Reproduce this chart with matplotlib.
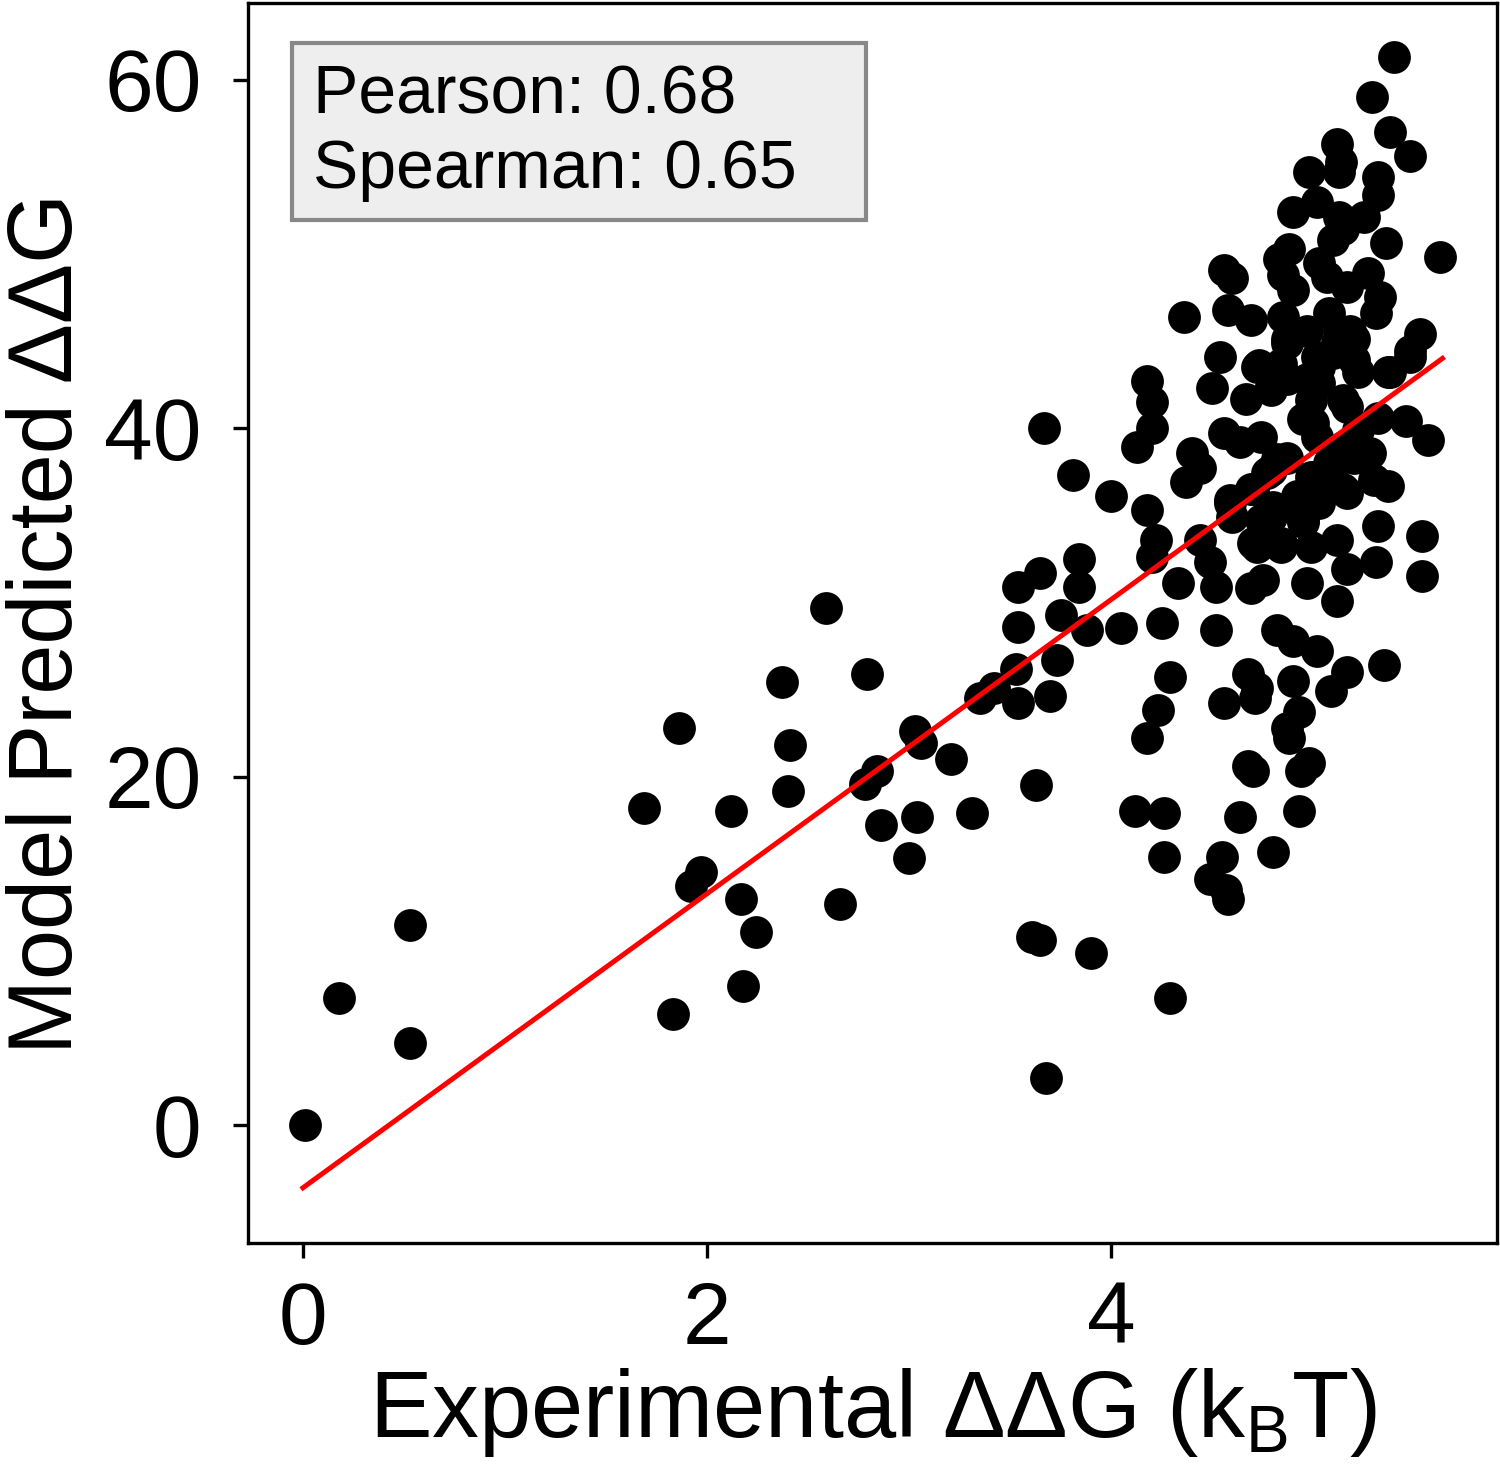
import numpy as np
import matplotlib
matplotlib.use('Agg')
import matplotlib.pyplot as plt
from matplotlib.patches import Rectangle

plt.rcParams['font.family'] = ['Liberation Sans', 'DejaVu Sans']
plt.rcParams['mathtext.fontset'] = 'custom'
plt.rcParams['mathtext.rm'] = 'Liberation Sans'

# experimental ddG (kBT) and model predicted ddG
exp_low = [0.01, 0.18, 0.53, 0.53, 1.69, 1.86, 1.83, 1.92, 1.97, 2.12, 2.17, 2.24, 2.18,
           2.37, 2.41, 2.40, 2.59, 2.66, 2.79, 2.78, 2.84, 2.86, 3.00, 3.03, 3.06, 3.04,
           3.21, 3.31, 3.35, 3.42, 3.53, 3.54, 3.54, 3.54, 3.65, 3.63, 3.61, 3.65, 3.68,
           3.67, 3.73, 3.70, 3.75, 3.81, 3.84, 3.84, 3.88, 3.90, 4.00, 4.05]
pred_low = [0.0, 7.3, 11.5, 4.7, 18.2, 22.8, 6.4, 13.7, 14.5, 18.0, 13.0, 11.1, 8.0,
            25.4, 21.8, 19.2, 29.7, 12.7, 25.9, 19.6, 20.3, 17.2, 15.3, 22.6, 21.9, 17.7,
            21.0, 17.9, 24.5, 25.1, 26.2, 24.2, 30.9, 28.6, 31.7, 19.5, 10.8, 10.6, 2.7,
            40.0, 26.7, 24.6, 29.3, 37.3, 32.5, 30.9, 28.4, 9.9, 36.1, 28.5]

exp_mid = [4.25, 4.52, 4.82, 4.90, 5.02, 4.29, 4.68, 4.72, 4.56, 4.71, 4.90, 5.17, 5.35,
           5.09, 4.23, 4.18, 4.93, 4.87, 4.88, 4.68, 4.70, 4.98, 4.94, 4.12, 4.26, 4.64,
           4.93, 4.26, 4.55, 4.80, 4.49, 4.57, 4.58, 4.29]
pred_mid = [28.8, 28.4, 28.4, 27.8, 27.2, 25.7, 25.9, 25.1, 24.2, 24.5, 25.5, 26.0, 26.4,
            24.9, 23.8, 22.2, 23.7, 22.8, 22.2, 20.6, 20.3, 20.8, 20.3, 18.0, 17.9, 17.7,
            18.0, 15.4, 15.4, 15.7, 14.1, 13.5, 13.0, 7.3]

exp_dense = [4.54, 4.73, 4.18, 4.20, 4.20, 4.13, 4.50, 4.67, 4.79, 4.87, 4.97, 5.03, 5.10,
             5.20, 5.37, 5.48, 4.95, 5.00, 5.17, 5.32, 5.46, 5.57, 4.56, 4.74, 4.64, 4.40,
             4.44, 4.37, 4.18, 4.82, 4.87, 4.77, 4.59, 4.69, 5.00, 5.10, 5.20, 5.27, 5.30,
             5.37, 5.17, 5.03, 4.94, 4.89, 4.80, 4.60, 4.74, 4.95, 5.32, 5.54, 4.22, 4.20,
             4.44, 4.72, 4.84, 4.99, 5.12, 5.31, 5.17, 4.33, 4.49, 4.52, 4.69, 4.75, 4.97,
             5.12, 5.54]
pred_dense = [44.1, 43.6, 42.7, 41.5, 40.0, 38.9, 42.3, 41.7, 42.4, 42.8, 42.8, 43.5, 44.3,
              43.9, 43.2, 44.1, 40.5, 40.3, 41.2, 40.6, 40.4, 39.3, 39.7, 39.5, 39.2, 38.6,
              37.7, 36.9, 35.3, 38.2, 38.3, 37.4, 35.9, 36.5, 37.2, 37.8, 38.3, 38.6, 37.0,
              36.7, 36.3, 36.1, 36.1, 35.5, 35.5, 34.9, 34.7, 34.7, 34.4, 33.8, 33.6, 32.6,
              33.6, 33.2, 33.2, 33.2, 33.6, 32.3, 31.9, 31.1, 32.3, 30.9, 30.8, 31.3, 31.1,
              30.1, 31.5]

# extra points inside the overlapping blob
exp_fill = [5.02, 5.03, 4.99, 5.02, 5.15, 5.22, 5.12, 5.18, 4.87, 4.84, 4.72, 4.79, 5.15,
            5.22, 5.08, 4.99, 4.92, 5.03, 5.15, 5.28, 5.38, 4.79, 4.70, 4.59, 4.79, 4.95,
            4.70, 4.84]
pred_fill = [44.1, 42.6, 41.6, 39.5, 41.6, 43.2, 44.9, 45.6, 45.1, 43.7, 43.5, 42.2, 38.9,
             39.9, 38.0, 37.2, 36.1, 35.7, 36.5, 38.6, 43.2, 37.6, 36.5, 35.7, 34.9, 34.6,
             33.4, 33.4]

exp_top = [5.40, 5.29, 5.38, 5.48, 5.12, 5.14, 5.13, 4.98, 5.32, 5.32, 5.02, 4.90, 5.13,
           5.25, 5.15, 5.10, 5.36, 5.63, 4.88, 4.83, 4.85, 4.90, 5.03, 5.07, 5.17, 5.27,
           5.33, 5.31, 4.56, 4.60, 4.36, 4.58, 4.69, 4.85, 4.97, 5.08, 5.13, 5.20, 5.53,
           5.48, 4.87]
pred_top = [61.3, 59.0, 57.0, 55.6, 56.3, 55.3, 54.7, 54.7, 54.4, 53.4, 53.0, 52.4, 52.1,
            52.1, 51.4, 50.8, 50.6, 49.8, 50.3, 49.7, 48.8, 47.9, 49.5, 48.7, 48.1, 48.9,
            47.5, 46.6, 49.1, 48.6, 46.4, 46.8, 46.2, 46.4, 45.6, 46.6, 45.6, 45.1, 45.4,
            44.4, 44.9]

exp_all = np.array(exp_low + exp_mid + exp_dense + exp_fill + exp_top)
pred_all = np.array(pred_low + pred_mid + pred_dense + pred_fill + pred_top)

# regression line as drawn
fit_intercept = -3.6
fit_slope = 8.44
fit_x = np.array([0.0, 5.64])

pearson = 0.68
spearman = 0.65

fig = plt.figure(figsize=(5, 1466 / 300))
ax = fig.add_axes([248 / 1500, 1 - 1243 / 1466, (1497 - 248) / 1500, (1243 - 3) / 1466])

ax.scatter(exp_all, pred_all, s=62, color='black', linewidths=0, zorder=2)
ax.plot(fit_x, fit_intercept + fit_slope * fit_x, color='red', lw=1.2, zorder=3)

ax.set_xlim(-0.272, 5.91)
ax.set_ylim(-6.77, 64.4)
ax.set_xticks([0, 2, 4])
ax.set_yticks([0, 20, 40, 60])
ax.tick_params(labelsize=21, length=3.6, width=0.8, direction='out')
ax.tick_params(axis='x', pad=5.5)
ax.tick_params(axis='y', pad=7.5)
for sp in ax.spines.values():
    sp.set_linewidth(0.8)

ax.set_xlabel('Experimental ΔΔG (k$_\\mathrm{B}$T)', fontsize=22.5, va='baseline')
ax.xaxis.set_label_coords(0.5, -0.1565)
ax.set_ylabel('Model Predicted ΔΔG', fontsize=21.6)
ax.yaxis.set_label_coords(-0.1257, 0.5)

# stats box
ax.add_patch(Rectangle((0.0352, 0.825), 0.4596, 0.1427, transform=ax.transAxes,
                       facecolor='#eeeeee', edgecolor='#888888', lw=1.0, zorder=4))
ax.text(0.052, 0.911, 'Pearson: %.2f' % pearson, transform=ax.transAxes,
        fontsize=16.3, va='baseline', ha='left', zorder=5)
ax.text(0.052, 0.851, 'Spearman: %.2f' % spearman, transform=ax.transAxes,
        fontsize=16.3, va='baseline', ha='left', zorder=5)

fig.savefig('out.png', dpi=300)
